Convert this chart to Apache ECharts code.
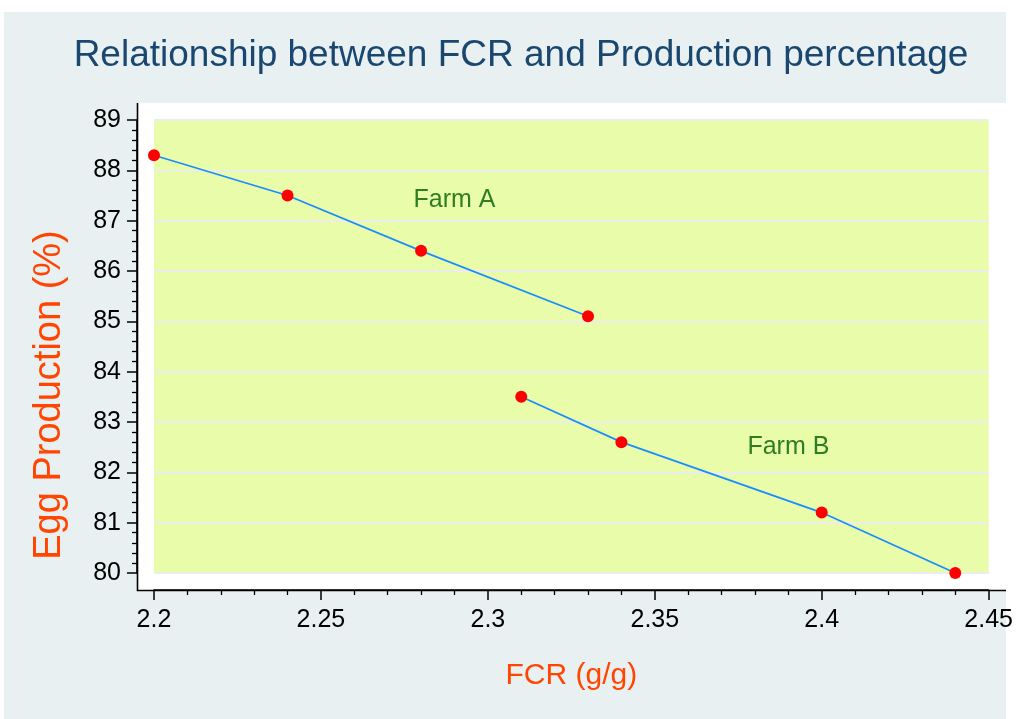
<!DOCTYPE html>
<html>
<head>
<meta charset="utf-8">
<script src="https://cdn.jsdelivr.net/npm/echarts@6/dist/echarts.min.js"></script>
<style>
html,body{margin:0;padding:0;background:#fff;}
#chart{width:1016px;height:719px;}
</style>
</head>
<body>
<div id="chart"></div>
<script>
// ---- data ----
const farmA_fcr = [2.20, 2.24, 2.28, 2.33];
const farmA_prod = [88.3, 87.5, 86.4, 85.1];
const farmB_fcr = [2.31, 2.34, 2.40, 2.44];
const farmB_prod = [83.5, 82.6, 81.2, 80.0];
const annotNames = ['Farm A', 'Farm B'];
const annotFcr = [2.29, 2.39];
const annotProd = [87.4, 82.5];
const xTicks = [2.2, 2.25, 2.3, 2.35, 2.4, 2.45];
const yTicks = [80, 81, 82, 83, 84, 85, 86, 87, 88, 89];

const FONT = '"Liberation Sans", Arial, Helvetica, sans-serif';
const chart = echarts.init(document.getElementById('chart'), null, {renderer: 'canvas'});

const pairs = (xs, ys) => xs.map((x, i) => [x, ys[i]]);

const option = {
  backgroundColor: '#ffffff',
  animation: false,
  textStyle: {fontFamily: FONT},
  title: {
    text: 'Relationship between FCR and Production percentage',
    left: 521, top: 37, textAlign: 'center', padding: 0,
    textStyle: {fontFamily: FONT, fontSize: 37, fontWeight: 'normal', color: '#1a476f'}
  },
  graphic: [
    {type: 'rect', z: -100, silent: true, shape: {x: 4, y: 12, width: 1002, height: 707}, style: {fill: '#e8f0f2'}},
    {type: 'rect', z: -99, silent: true, shape: {x: 137, y: 103, width: 869, height: 487}, style: {fill: '#ffffff'}},
    {type: 'polyline', z: 100, silent: true, shape: {points: [[137.5, 103], [137.5, 590.5], [1006, 590.5]]}, style: {stroke: '#000', lineWidth: 1.6, fill: null}}
  ],
  grid: {
    left: 154, right: 26, top: 120, bottom: 146,
    show: true, backgroundColor: '#e8fca9', borderWidth: 0
  },
  xAxis: {
    type: 'value', min: xTicks[0], max: xTicks[xTicks.length - 1], interval: 0.05,
    offset: 17,
    axisLine: {show: true, onZero: false, lineStyle: {color: '#000', width: 1.6}},
    axisTick: {show: true, length: 10, lineStyle: {color: '#000', width: 1.5}},
    minorTick: {show: true, splitNumber: 5, length: 5, lineStyle: {color: '#000', width: 1.3}},
    splitLine: {show: false},
    axisLabel: {margin: 18, fontSize: 25, color: '#000', fontFamily: FONT,
      formatter: v => String(+v.toFixed(2))},
    name: 'FCR (g/g)', nameLocation: 'middle', nameGap: 71,
    nameTextStyle: {fontSize: 30, color: '#ff4500', fontFamily: FONT}
  },
  yAxis: {
    type: 'value', min: yTicks[0], max: yTicks[yTicks.length - 1], interval: 1,
    offset: 17,
    axisLine: {show: true, onZero: false, lineStyle: {color: '#000', width: 1.6}},
    axisTick: {show: true, length: 10, lineStyle: {color: '#000', width: 1.5}},
    minorTick: {show: true, splitNumber: 5, length: 5, lineStyle: {color: '#000', width: 1.3}},
    splitLine: {show: true, lineStyle: {color: '#ececec', width: 2}},
    axisLabel: {margin: 16, fontSize: 25, color: '#000', fontFamily: FONT},
    name: 'Egg Production (%)', nameLocation: 'middle', nameGap: 68,
    nameTextStyle: {fontSize: 38, color: '#ff4500', fontFamily: FONT, padding: [0, 97, 0, 0]}
  },
  series: [
    {
      name: 'Farm A', type: 'line', data: pairs(farmA_fcr, farmA_prod),
      symbol: 'circle', symbolSize: 12, showAllSymbol: true,
      lineStyle: {color: '#1a8cff', width: 1.7},
      itemStyle: {color: '#ff0000', borderWidth: 0}, z: 3
    },
    {
      name: 'Farm B', type: 'line', data: pairs(farmB_fcr, farmB_prod),
      symbol: 'circle', symbolSize: 12, showAllSymbol: true,
      lineStyle: {color: '#1a8cff', width: 1.7},
      itemStyle: {color: '#ff0000', borderWidth: 0}, z: 3
    },
    {
      name: 'labels', type: 'scatter', symbolSize: 0, silent: true,
      data: annotNames.map((n, i) => ({name: n, value: [annotFcr[i], annotProd[i]]})),
      label: {show: true, position: 'inside', formatter: p => p.name,
        fontSize: 25, color: '#005c00', fontFamily: FONT}
    }
  ]
};
chart.setOption(option);
</script>
</body>
</html>
